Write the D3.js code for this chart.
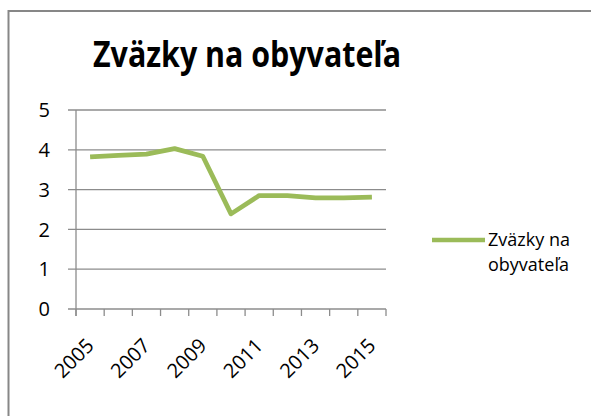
<!DOCTYPE html>
<html>
<head>
<meta charset="utf-8">
<title>Zväzky na obyvateľa</title>
<style type="text/css">
    body { margin: 0; background: #fff; }
    svg { display: block; font-family: "Open Sans", sans-serif; }
    .grid line { stroke: #8c8c8c; stroke-width: 1.3px; }
    .axis text { font-size: 20px; fill: #000; }
</style>
</head>
<body>
<div id="chart"></div>
<script src="https://cdn.jsdelivr.net/npm/d3@7"></script>
<script>
    // data
    var years = [2005, 2006, 2007, 2008, 2009, 2010, 2011, 2012, 2013, 2014, 2015];
    var volumes = [3.82, 3.86, 3.89, 4.03, 3.84, 2.39, 2.85, 2.85, 2.79, 2.79, 2.81];
    var yTicks = [0, 1, 2, 3, 4, 5];
    var xLabels = [2005, 2007, 2009, 2011, 2013, 2015];
    var title = "Zväzky na obyvateľa";
    var legendLines = ["Zväzky na", "obyvateľa"];

    var width = 591, height = 416;
    var plotLeft = 76, plotRight = 386, plotTop = 110, plotBottom = 309;
    var green = "#9bbb59", gray = "#8c8c8c";

    var svg = d3.select("#chart").append("svg")
        .attr("width", width)
        .attr("height", height);

    // chart frame (runs off the right and bottom edge)
    svg.append("rect")
        .attr("x", 8.5).attr("y", 11)
        .attr("width", 640).attr("height", 460)
        .attr("fill", "none")
        .attr("stroke", "#878787")
        .attr("stroke-width", 2);

    svg.append("text")
        .attr("x", 93).attr("y", 67)
        .attr("font-size", 35)
        .attr("font-weight", "bold")
        .attr("textLength", 308)
        .attr("lengthAdjust", "spacingAndGlyphs")
        .text(title);

    var x = d3.scaleBand().domain(years).range([plotLeft, plotRight]);
    var y = d3.scaleLinear().domain([0, 5]).range([plotBottom, plotTop]);

    //  horizontal gridlines and y tick marks
    svg.append("g")
        .attr("class", "grid")
        .selectAll("line")
        .data(yTicks)
        .enter().append("line")
            .attr("x1", plotLeft - 8)
            .attr("x2", plotRight)
            .attr("y1", d => y(d))
            .attr("y2", d => y(d));

    // y axis line
    svg.append("line")
        .attr("x1", plotLeft).attr("x2", plotLeft)
        .attr("y1", plotTop).attr("y2", plotBottom + 7)
        .attr("stroke", gray).attr("stroke-width", 1.3);

    svg.append("g")
        .attr("class", "axis")
        .selectAll("text")
        .data(yTicks)
        .enter().append("text")
            .attr("x", 50)
            .attr("y", d => y(d))
            .attr("dy", "0.36em")
            .attr("text-anchor", "end")
            .text(d => d);

    // x tick marks sit on the band boundaries
    var bounds = years.map(d => x(d)).concat([x(years[years.length - 1]) + x.bandwidth()]);
    svg.append("g")
        .selectAll("line")
        .data(bounds)
        .enter().append("line")
            .attr("x1", d => d).attr("x2", d => d)
            .attr("y1", plotBottom).attr("y2", plotBottom + 7)
            .attr("stroke", gray).attr("stroke-width", 1.3);

    svg.append("g")
        .attr("class", "axis")
        .selectAll("text")
        .data(xLabels)
        .enter().append("text")
            .attr("text-anchor", "end")
            .attr("transform", d => "translate(" + (x(d) + x.bandwidth() / 2 + 5) + "," + (plotBottom + 38) + ") rotate(-45)")
            .text(d => d);

    var line = d3.line()
        .x((d, i) => x(years[i]) + x.bandwidth() / 2)
        .y(d => y(d));

    svg.append("path")
        .datum(volumes)
        .attr("d", line)
        .attr("fill", "none")
        .attr("stroke", green)
        .attr("stroke-width", 4.7)
        .attr("stroke-linejoin", "round");

    // legend
    var legend = svg.append("g").attr("transform", "translate(432,240)");
    legend.append("line")
        .attr("x1", 0).attr("x2", 53)
        .attr("stroke", green).attr("stroke-width", 4.5);
    legend.append("text")
        .attr("font-size", 18)
        .selectAll("tspan")
        .data(legendLines)
        .enter().append("tspan")
            .attr("x", 56)
            .attr("y", (d, i) => 6 + i * 25)
            .text(d => d);
</script>
</body>
</html>
